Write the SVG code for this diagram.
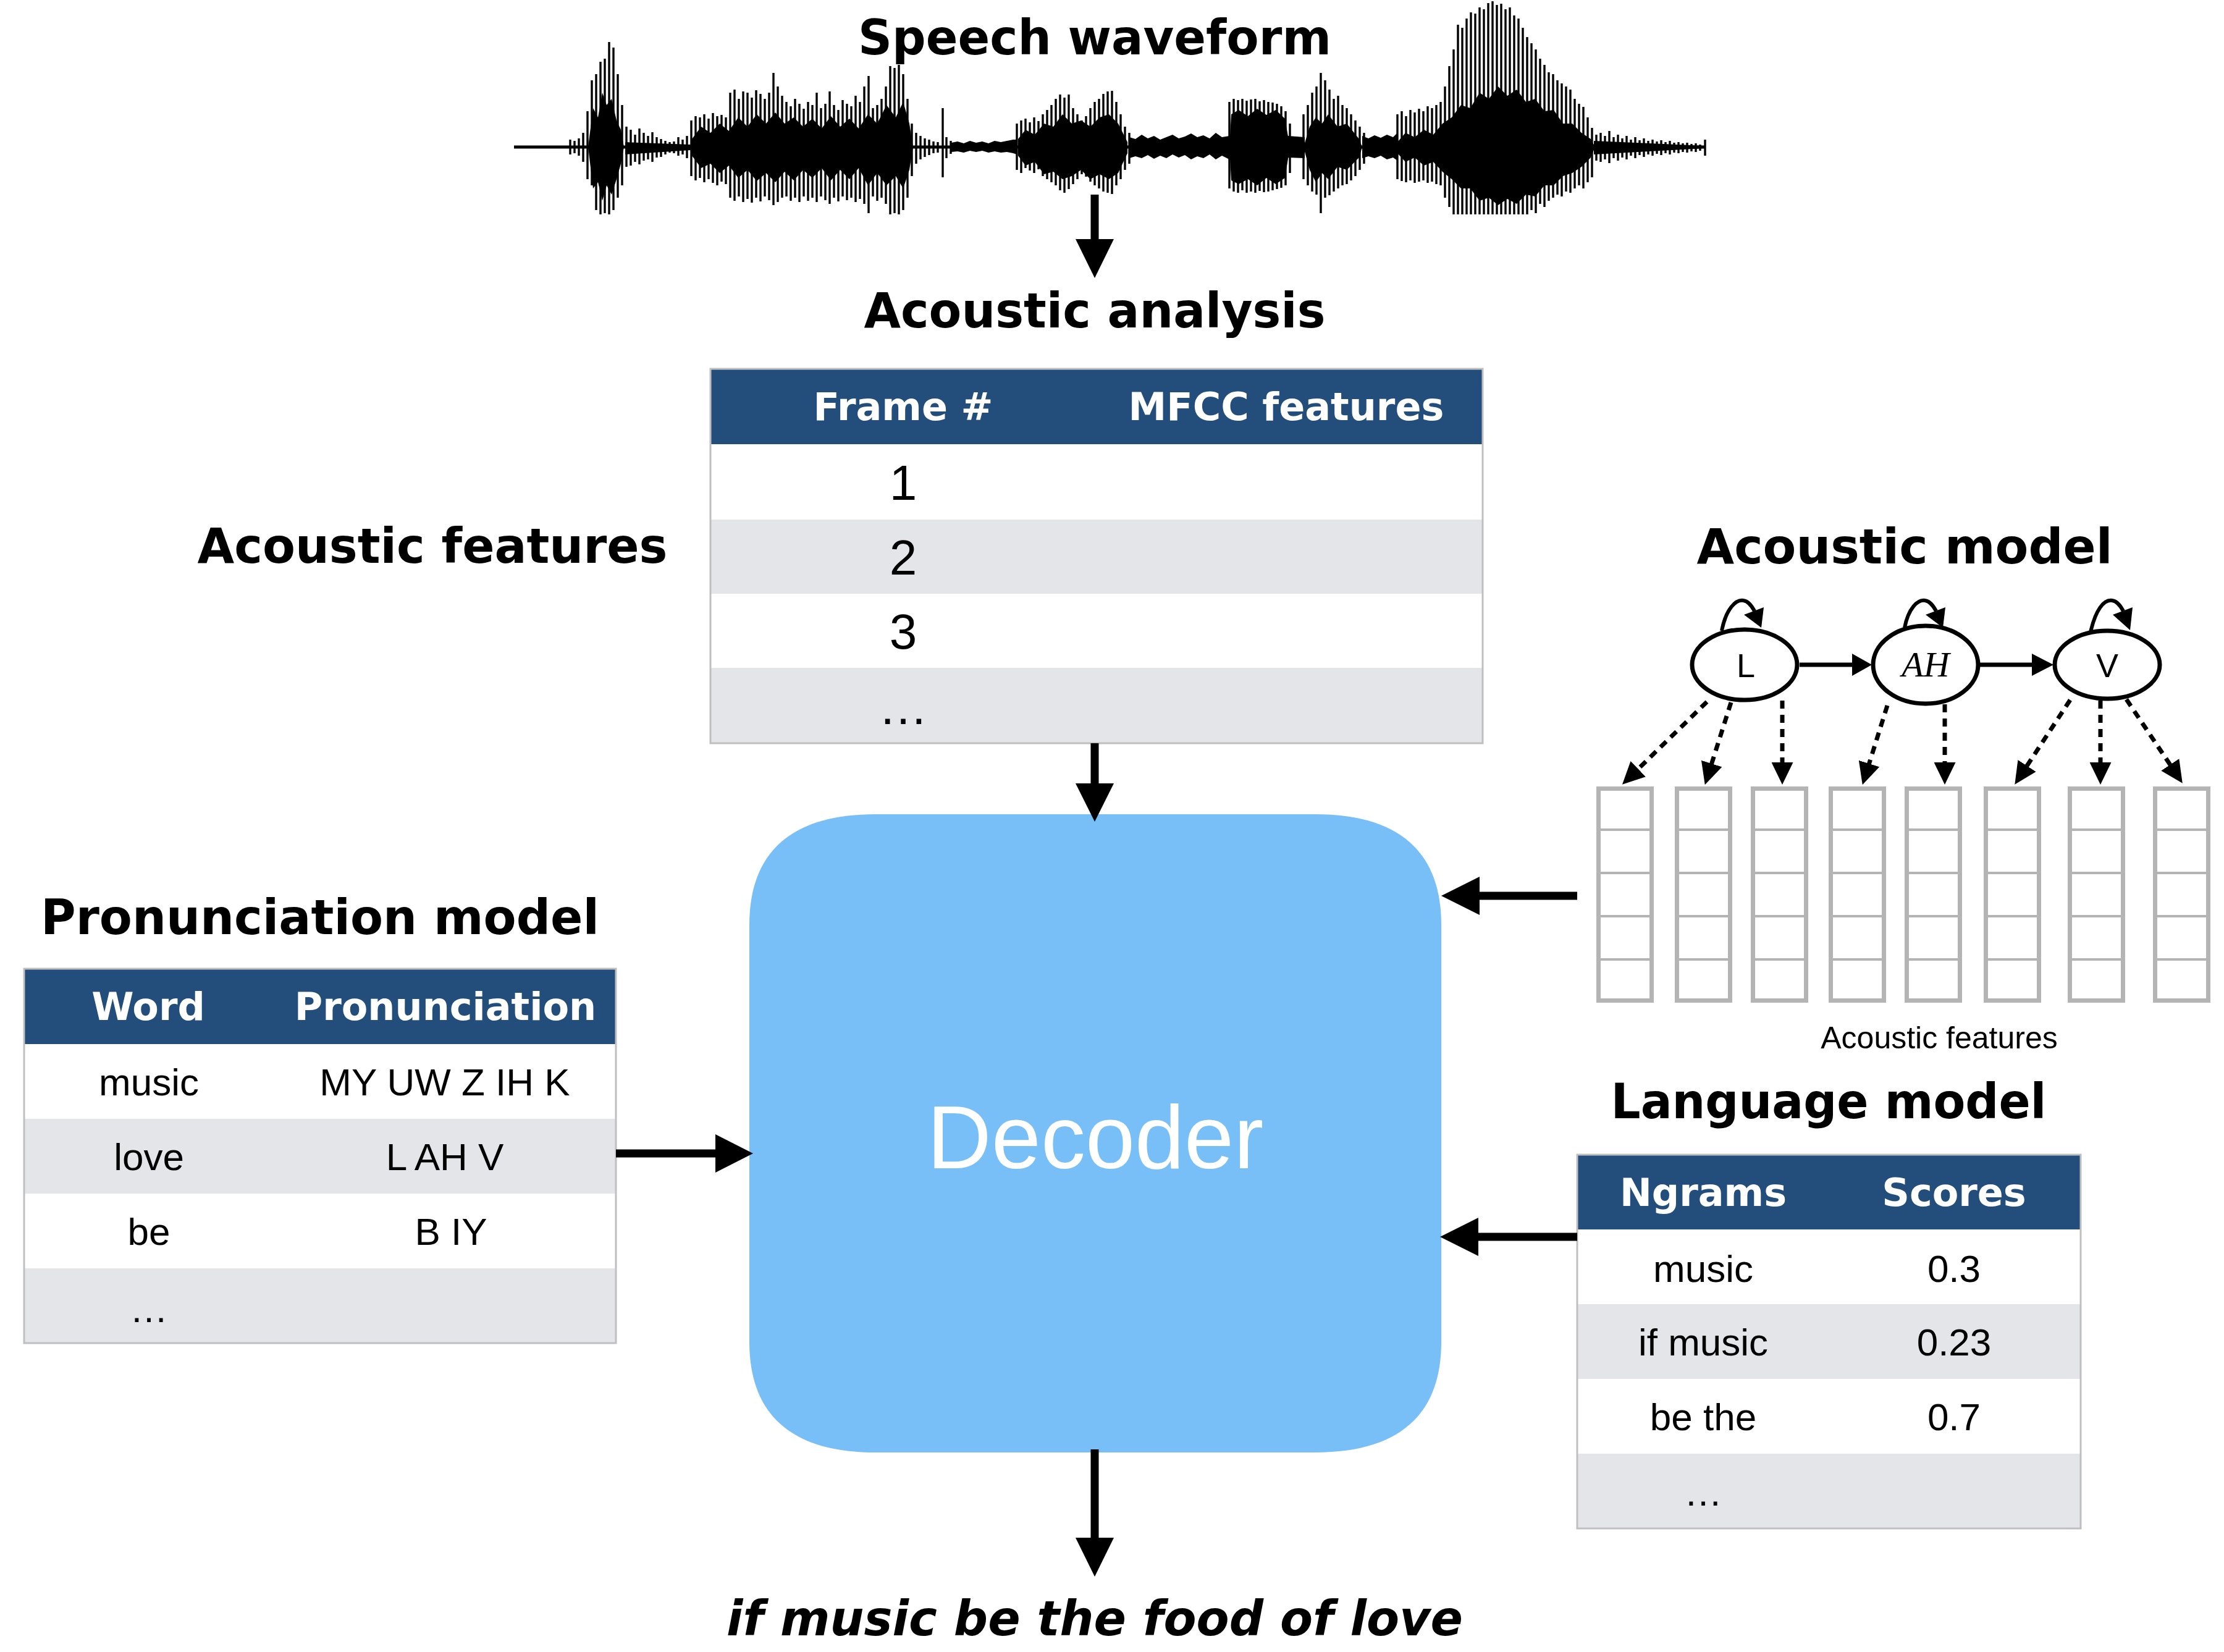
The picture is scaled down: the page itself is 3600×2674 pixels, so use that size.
<svg xmlns="http://www.w3.org/2000/svg" xmlns:xlink="http://www.w3.org/1999/xlink" width="3600" height="2674" viewBox="0 0 3600 2674">
<style>
.title{font-family:"DejaVu Sans","Liberation Sans",sans-serif;font-weight:bold;font-size:78px;text-anchor:middle;fill:#000}
.th{font-family:"DejaVu Sans","Liberation Sans",sans-serif;font-weight:bold;font-size:62px;text-anchor:middle;fill:#fff}
.td{font-family:"Liberation Sans",Arial,sans-serif;font-size:62px;text-anchor:middle;fill:#000}
.tdl{font-family:"Liberation Sans",Arial,sans-serif;font-size:80px;text-anchor:middle;fill:#000}
.hdr{fill:#234E7B}
.alt{fill:#E4E5E9}
.tbl{fill:none;stroke:#BFBFBF;stroke-width:3}
.arr{stroke:#000;stroke-width:13;fill:none}
.hmm{fill:#fff;stroke:#000;stroke-width:7}
.hl{font-family:"Liberation Sans",Arial,sans-serif;font-size:54px;text-anchor:middle;fill:#000}
.dash{stroke:#000;stroke-width:7;stroke-dasharray:13 10;fill:none}
.loop{stroke:#000;stroke-width:6;fill:none}
.fc{fill:#fff;stroke:#B4B4B4;stroke-width:7}
.fl{stroke:#B4B4B4;stroke-width:4}
.wv{stroke:#000;stroke-width:3.4;fill:none}
</style>
<defs>
<marker id="dh" markerUnits="userSpaceOnUse" markerWidth="36" markerHeight="35" viewBox="0 0 36 35" refX="22" refY="17.5" orient="auto"><path d="M0,0L36,17.5L0,35Z" fill="#000"/></marker>
<g id="fcol"><rect class="fc" x="3.5" y="3.5" width="86" height="343"/><path class="fl" d="M3.5,70H89.5M3.5,140H89.5M3.5,210H89.5M3.5,280H89.5"/></g>
</defs>
<rect width="3600" height="2674" fill="#fff"/>

<g id="waveform">
<line x1="832" y1="238" x2="2760" y2="238" stroke="#000" stroke-width="5"/>
<path fill="#000" d="M1540,231 L1550,229 1560,232 1570,228 1580,231 1590,229 1600,232 1610,228 1620,230 1630,228 1640,226 1646,226 1646,250 1640,248 1630,246 1620,247 1610,245 1600,247 1590,244 1580,246 1570,244 1560,247 1550,245 1540,246 Z
M1828,222 L1838,225 1848,218 1858,224 1868,220 1878,226 1888,222 1898,218 1908,224 1918,221 1928,216 1938,222 1948,219 1958,224 1968,215 1978,222 1990,220 1990,258 1978,252 1968,258 1958,250 1948,256 1938,253 1928,258 1918,251 1908,255 1898,250 1888,256 1878,252 1868,257 1858,251 1848,256 1838,253 1828,256 Z
M2085,220 L2112,222 2112,256 2085,255 Z
M2205,220 L2215,224 2225,219 2235,223 2245,218 2255,222 2262,215 2262,260 2255,255 2245,258 2235,252 2225,256 2215,253 2205,256 Z
M2580,228 L2760,236 2760,240 2580,250 Z
M1012,230 L1118,234 1118,243 1012,250 Z
M952,238 L960,175 968,190 975,150 982,170 990,160 998,195 1005,210 1010,238 1005,265 998,290 990,315 982,300 975,325 968,295 960,305 Z
M1120,225 L1135,205 1150,215 1165,200 1180,212 1195,190 1210,205 1225,185 1240,200 1255,182 1270,200 1285,190 1300,205 1315,192 1330,208 1345,188 1360,205 1375,192 1390,208 1405,185 1420,200 1435,170 1450,190 1462,165 1472,200 1478,238 1472,275 1462,305 1450,285 1435,300 1420,280 1405,300 1390,272 1375,290 1360,275 1345,292 1330,272 1315,288 1300,275 1285,292 1270,278 1255,295 1240,280 1225,293 1210,275 1195,288 1180,268 1165,280 1150,265 1135,272 1120,252 Z
M1648,225 L1660,210 1675,218 1690,200 1705,205 1720,185 1735,200 1750,195 1765,205 1780,190 1795,185 1810,200 1825,230 1825,248 1810,280 1795,290 1780,282 1765,290 1750,275 1735,285 1720,290 1705,278 1690,282 1675,262 1660,268 1648,252 Z
M1990,238 L1993,185 2005,178 2020,188 2035,176 2050,186 2065,178 2080,192 2088,238 2080,288 2065,298 2050,288 2035,300 2020,290 2005,298 1993,292 Z
M2110,238 L2120,205 2130,190 2140,200 2150,185 2165,205 2180,200 2200,225 2205,238 2200,255 2180,275 2165,270 2150,290 2140,280 2130,295 2120,275 Z
M2262,230 L2275,215 2290,222 2305,210 2320,218 2335,200 2350,190 2365,170 2380,175 2395,150 2410,160 2425,140 2440,155 2455,145 2470,165 2485,160 2500,180 2515,178 2530,200 2545,200 2560,215 2575,225 2582,238 2575,255 2560,270 2545,280 2530,285 2515,300 2500,300 2485,318 2470,315 2455,330 2440,322 2425,332 2410,320 2395,325 2380,305 2365,305 2350,290 2335,278 2320,262 2305,268 2290,255 2275,262 2262,248 Z"/>
<path class="wv" d="M923,226V250M930,228V248M937,224V252M944,215V262M951,180V290M958,130V300M965,120V340M972,100V347M979,95V345M986,68V347M993,77V340M1000,120V320M1007,170V300M1014,205V270
M1021,210V268M1028,218V262M1035,208V266M1042,215V260M1049,220V258M1056,214V262M1063,222V255M1070,225V254M1077,228V250M1084,230V247M1091,229V248M1098,222V252M1105,226V250M1112,220V256
M1119,195V285M1126,188V292M1133,190V288M1140,185V295M1147,192V290M1154,183V296M1161,188V300M1168,186V294M1175,190V298M1182,150V320M1189,145V325M1196,160V318M1203,148V327M1210,150V322M1217,158V328M1224,146V320M1231,152V326M1238,160V318M1245,150V324M1252,118V332M1259,140V327M1266,155V320M1273,165V318M1280,172V325M1287,160V320M1294,168V327M1301,176V318M1308,165V325M1315,170V320M1322,150V327M1329,175V318M1336,168V324M1343,148V330M1350,170V320M1357,178V326M1364,162V318M1371,168V324M1378,172V320M1385,155V327M1392,165V322M1399,140V330M1406,123V345M1413,175V318M1420,170V325M1427,160V320M1434,140V330M1441,107V347M1448,110V345M1455,105V347M1462,120V340M1469,160V320M1476,200V285
M1483,215V265M1490,220V258M1497,224V254M1504,226V251M1511,229V248M1518,230V247M1526,175V287M1532,222V256M1539,228V249
M1646,200V275M1653,195V280M1660,192V272M1667,198V276M1674,190V280M1681,196V274M1688,185V285M1695,178V290M1702,170V295M1709,160V300M1716,153V308M1723,158V312M1730,153V306M1737,175V298M1744,185V290M1751,195V282M1758,188V286M1765,175V294M1772,165V300M1779,160V305M1786,152V310M1793,148V312M1800,147V314M1807,165V300M1814,185V290M1821,205V275M1828,215V265
M1990,165V305M1997,160V310M2004,162V312M2011,160V308M2018,163V312M2025,161V310M2032,160V312M2039,164V309M2046,162V311M2053,165V310M2060,166V308M2067,168V306M2074,172V304M2081,180V300M2088,200V280
M2110,185V290M2117,170V300M2124,150V310M2131,140V315M2138,118V345M2145,130V320M2152,145V316M2159,160V310M2166,155V305M2173,170V300M2180,175V298M2187,185V292M2194,195V285M2201,205V275M2208,215V265
M2262,185V290M2269,180V293M2276,188V295M2283,178V292M2290,182V296M2297,176V294M2304,180V292M2311,172V296M2318,175V294M2325,170V298M2332,165V300M2339,140V320M2346,107V335M2353,80V347M2360,40V347M2367,45V347M2374,30V347M2381,20V347M2388,22V347M2395,12V347M2402,15V347M2409,5V347M2416,2V347M2423,8V347M2430,6V347M2437,15V347M2444,12V347M2451,25V347M2458,30V347M2465,45V347M2472,60V347M2479,70V340M2486,80V345M2493,95V330M2500,105V335M2507,117V325M2514,120V320M2521,130V315M2528,135V318M2535,140V310M2542,145V312M2549,160V305M2556,168V300M2563,173V305M2570,190V295M2577,207V287
M2584,218V260M2591,215V262M2598,220V258M2605,212V264M2612,222V256M2619,218V260M2626,224V255M2633,220V258M2640,226V252M2647,222V256M2654,227V251M2661,224V254M2668,228V250M2675,226V252M2682,229V249M2689,227V251M2696,230V248M2703,228V250M2710,231V247M2717,230V248M2724,232V246M2731,231V247M2738,233V245M2745,232V246M2752,234V244M2760,226V252"/>
</g>

<g id="labels">
<text class="title" x="1772" y="88" textLength="766" lengthAdjust="spacingAndGlyphs">Speech waveform</text>
<text class="title" x="1772" y="530" textLength="747" lengthAdjust="spacingAndGlyphs">Acoustic analysis</text>
<text class="title" x="700" y="911" textLength="761" lengthAdjust="spacingAndGlyphs">Acoustic features</text>
<text class="title" x="3083" y="912" textLength="673" lengthAdjust="spacingAndGlyphs">Acoustic model</text>
<text class="title" x="518" y="1512" textLength="904" lengthAdjust="spacingAndGlyphs">Pronunciation model</text>
<text class="title" x="2960" y="1810" textLength="705" lengthAdjust="spacingAndGlyphs">Language model</text>
</g>

<g id="features-table">
<rect x="1150" y="597" width="1250" height="606" fill="#fff"/>
<rect class="hdr" x="1150" y="597" width="1250" height="122"/>
<rect class="alt" x="1150" y="841" width="1250" height="120"/>
<rect class="alt" x="1150" y="1081" width="1250" height="122"/>
<rect class="tbl" x="1150" y="597" width="1250" height="606"/>
<text class="th" x="1462" y="680">Frame #</text>
<text class="th" x="2082" y="680">MFCC features</text>
<text class="tdl" x="1462" y="809">1</text>
<text class="tdl" x="1462" y="930">2</text>
<text class="tdl" x="1462" y="1050">3</text>
<text class="tdl" x="1462" y="1172">…</text>
</g>

<g id="decoder">
<path fill="#78BEF7" d="M1417,1318 H2129 C2266,1318 2333,1380 2333,1497 V2172 C2333,2289 2266,2351 2129,2351 H1417 C1280,2351 1213,2289 1213,2172 V1497 C1213,1380 1280,1318 1417,1318 Z"/>
<text x="1773" y="1891" font-family="Liberation Sans, Arial, sans-serif" font-size="144" fill="#fff" text-anchor="middle">Decoder</text>
</g>

<g id="pronunciation-table">
<rect x="39" y="1568" width="958" height="606" fill="#fff"/>
<rect class="hdr" x="39" y="1568" width="958" height="122"/>
<rect class="alt" x="39" y="1811" width="958" height="121"/>
<rect class="alt" x="39" y="2053" width="958" height="121"/>
<rect class="tbl" x="39" y="1568" width="958" height="606"/>
<text class="th" x="240" y="1651">Word</text>
<text class="th" x="721" y="1651">Pronunciation</text>
<text class="td" x="241" y="1773">music</text>
<text class="td" x="720" y="1773">MY UW Z IH K</text>
<text class="td" x="241" y="1894">love</text>
<text class="td" x="720" y="1894">L AH V</text>
<text class="td" x="241" y="2015">be</text>
<text class="td" x="730" y="2015">B IY</text>
<text class="td" x="241" y="2140">…</text>
</g>

<g id="language-table">
<rect x="2553" y="1869" width="815" height="605" fill="#fff"/>
<rect class="hdr" x="2553" y="1869" width="815" height="121"/>
<rect class="alt" x="2553" y="2111" width="815" height="121"/>
<rect class="alt" x="2553" y="2353" width="815" height="121"/>
<rect class="tbl" x="2553" y="1869" width="815" height="605"/>
<text class="th" x="2757" y="1952">Ngrams</text>
<text class="th" x="3163" y="1952">Scores</text>
<text class="td" x="2757" y="2075">music</text>
<text class="td" x="3163" y="2075">0.3</text>
<text class="td" x="2757" y="2194">if music</text>
<text class="td" x="3163" y="2194">0.23</text>
<text class="td" x="2757" y="2315">be the</text>
<text class="td" x="3163" y="2315">0.7</text>
<text class="td" x="2757" y="2437">…</text>
</g>

<g id="hmm-L">
<ellipse class="hmm" cx="2824" cy="1076" rx="85" ry="57"/>
<text class="hl" x="2826" y="1096">L</text>
</g>
<g id="hmm-AH">
<ellipse class="hmm" cx="3117" cy="1076" rx="85" ry="63"/>
<text x="3117" y="1095" font-family="Liberation Serif, Times New Roman, serif" font-style="italic" font-size="58" text-anchor="middle">AH</text>
</g>
<g id="hmm-V">
<ellipse class="hmm" cx="3411" cy="1076" rx="85" ry="55"/>
<text class="hl" x="3411" y="1096">V</text>
</g>

<g id="acoustic-feature-columns">
<use xlink:href="#fcol" x="2584" y="1273"/>
<use xlink:href="#fcol" x="2711" y="1273"/>
<use xlink:href="#fcol" x="2834" y="1273"/>
<use xlink:href="#fcol" x="2960" y="1273"/>
<use xlink:href="#fcol" x="3083" y="1273"/>
<use xlink:href="#fcol" x="3211" y="1273"/>
<use xlink:href="#fcol" x="3347" y="1273"/>
<use xlink:href="#fcol" x="3485" y="1273"/>
<text x="3139" y="1697" font-family="Liberation Sans, Arial, sans-serif" font-size="50" text-anchor="middle">Acoustic features</text>
</g>

<g id="output">
<text x="1772" y="2647" font-family="DejaVu Sans, Liberation Sans, sans-serif" font-weight="bold" font-style="italic" font-size="78" text-anchor="middle" textLength="1192" lengthAdjust="spacingAndGlyphs">if music be the food of love</text>
</g>

<g id="connectors">
<line class="arr" x1="1772" y1="315" x2="1772" y2="392"/>
<polygon points="1741,387 1803,387 1772,450"/>
<line class="arr" x1="1772" y1="1203" x2="1772" y2="1272"/>
<polygon points="1741,1268 1803,1268 1772,1330"/>
<line class="arr" x1="1772" y1="2346" x2="1772" y2="2494"/>
<polygon points="1741,2489 1803,2489 1772,2552"/>
<line class="arr" x1="997" y1="1867" x2="1162" y2="1867"/>
<polygon points="1158,1836 1158,1898 1219,1867"/>
<line class="arr" x1="2553" y1="1450" x2="2390" y2="1450"/>
<polygon points="2395,1419 2395,1481 2333,1450"/>
<line class="arr" x1="2553" y1="2002" x2="2390" y2="2002"/>
<polygon points="2393,1971 2393,2033 2331,2002"/>

<line x1="2913" y1="1076" x2="3002" y2="1076" stroke="#000" stroke-width="7"/>
<polygon points="2998,1058 3030,1076 2998,1094"/>
<line x1="3205" y1="1076" x2="3293" y2="1076" stroke="#000" stroke-width="7"/>
<polygon points="3289,1058 3324,1076 3289,1094"/>

<path class="loop" d="M2787,1021 C2794,985 2810,970 2822,972 C2830,973 2835,980 2840,989"/>
<polygon points="2823,995 2855,983 2851,1016"/>
<path class="loop" d="M3083,1016 C3089,985 3104,970 3116,972 C3124,973 3129,980 3134,989"/>
<polygon points="3117,995 3149,983 3145,1016"/>
<path class="loop" d="M3384,1023 C3392,988 3405,970 3419,972 C3427,973 3432,980 3437,989"/>
<polygon points="3420,995 3452,983 3448,1020"/>

<line class="dash" x1="2763" y1="1136" x2="2636" y2="1260" marker-end="url(#dh)"/>
<line class="dash" x1="2802" y1="1137" x2="2764" y2="1257" marker-end="url(#dh)"/>
<line class="dash" x1="2885" y1="1134" x2="2885" y2="1256" marker-end="url(#dh)"/>
<line class="dash" x1="3055" y1="1142" x2="3019" y2="1257" marker-end="url(#dh)"/>
<line class="dash" x1="3148" y1="1140" x2="3148" y2="1256" marker-end="url(#dh)"/>
<line class="dash" x1="3351" y1="1133" x2="3269" y2="1258" marker-end="url(#dh)"/>
<line class="dash" x1="3400" y1="1134" x2="3400" y2="1256" marker-end="url(#dh)"/>
<line class="dash" x1="3442" y1="1132" x2="3525" y2="1256" marker-end="url(#dh)"/>
</g>
</svg>
